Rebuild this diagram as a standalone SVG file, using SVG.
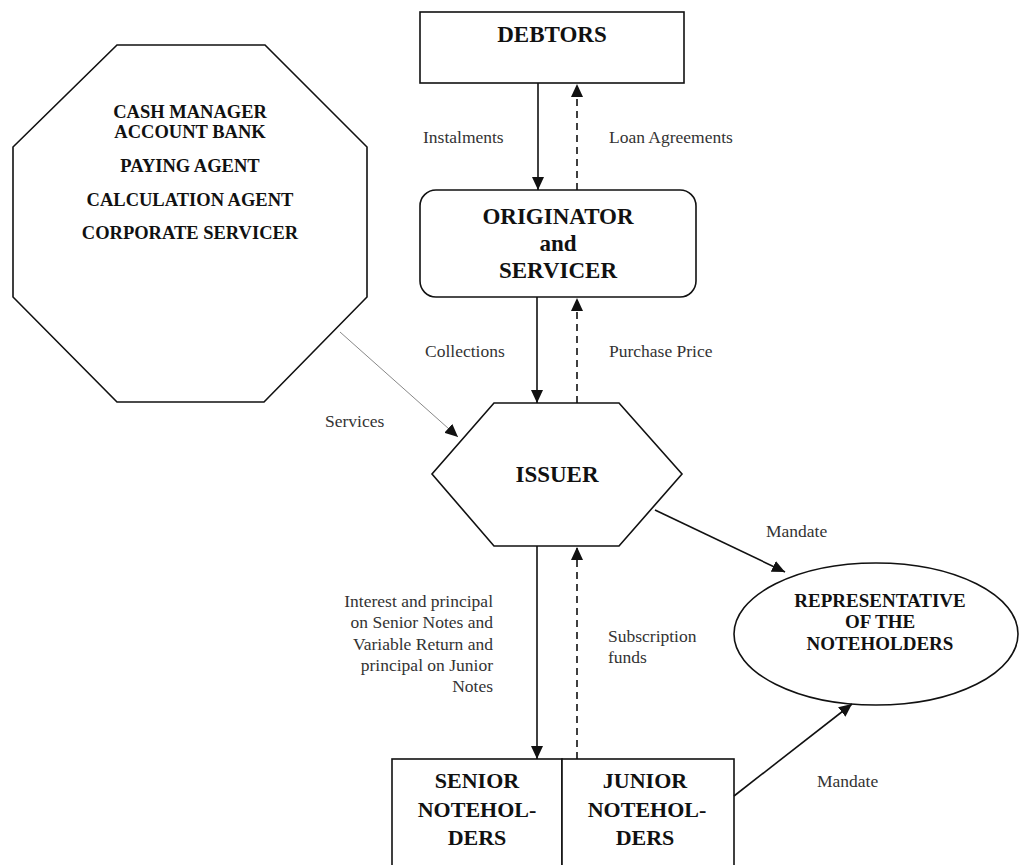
<svg xmlns="http://www.w3.org/2000/svg" width="1019" height="865" viewBox="0 0 1019 865">
<defs>
<style>
.shape{fill:#fff;stroke:#111;stroke-width:1.6}
.bold{font-family:"Liberation Serif","Times New Roman",serif;font-weight:bold;fill:#111;text-anchor:middle}
.lbl{font-family:"Liberation Serif","Times New Roman",serif;font-size:17.5px;fill:#333}
.solid{stroke:#111;stroke-width:1.6;fill:none;marker-end:url(#ah)}
.dash{stroke:#111;stroke-width:1.6;fill:none;stroke-dasharray:7,5;marker-end:url(#ah)}
.thin{stroke:#888;stroke-width:1;fill:none;marker-end:url(#ah)}
</style>
<marker id="ah" markerUnits="userSpaceOnUse" markerWidth="14" markerHeight="12" refX="13" refY="6" orient="auto">
<path d="M0,0 L13,6 L0,12 z" fill="#111"/>
</marker>
</defs>
<rect width="1019" height="865" fill="#fff"/>

<g id="debtors">
<rect class="shape" x="420" y="12" width="264" height="71"/>
<text class="bold" x="552" y="42" font-size="23">DEBTORS</text>
</g>

<g id="originator">
<rect class="shape" x="420" y="190" width="276" height="107" rx="16"/>
<text class="bold" x="558" y="224" font-size="23">ORIGINATOR</text>
<text class="bold" x="558" y="251" font-size="23">and</text>
<text class="bold" x="558" y="278" font-size="23">SERVICER</text>
</g>

<g id="agents">
<polygon class="shape" points="117,45 265,45 367,147 367,297 264,402 117,402 13,297 13,147"/>
<text class="bold" x="190" y="118" font-size="18.5">CASH MANAGER</text>
<text class="bold" x="190" y="138" font-size="18.5">ACCOUNT BANK</text>
<text class="bold" x="190" y="172" font-size="18.5">PAYING AGENT</text>
<text class="bold" x="190" y="206" font-size="18.5">CALCULATION AGENT</text>
<text class="bold" x="190" y="239" font-size="18.5">CORPORATE SERVICER</text>
</g>

<g id="issuer">
<polygon class="shape" points="494,403 619,403 682,474 619,546 494,546 432,474"/>
<text class="bold" x="557" y="482" font-size="23">ISSUER</text>
</g>

<g id="representative">
<ellipse class="shape" cx="876" cy="634" rx="142" ry="71"/>
<text class="bold" x="880" y="607" font-size="19">REPRESENTATIVE</text>
<text class="bold" x="880" y="628" font-size="19">OF THE</text>
<text class="bold" x="880" y="650" font-size="19">NOTEHOLDERS</text>
</g>

<g id="senior">
<rect class="shape" x="392" y="759" width="170" height="120"/>
<text class="bold" x="477" y="788" font-size="22">SENIOR</text>
<text class="bold" x="477" y="817" font-size="22">NOTEHOL-</text>
<text class="bold" x="477" y="845" font-size="22">DERS</text>
</g>

<g id="junior">
<rect class="shape" x="562" y="759" width="172" height="120"/>
<text class="bold" x="645" y="788" font-size="22">JUNIOR</text>
<text class="bold" x="647" y="817" font-size="22">NOTEHOL-</text>
<text class="bold" x="645" y="845" font-size="22">DERS</text>
</g>

<g id="connectors">
<line class="solid" x1="538" y1="83" x2="538" y2="190"/>
<line class="dash" x1="577" y1="190" x2="577" y2="84"/>
<line class="solid" x1="537" y1="297" x2="537" y2="403"/>
<line class="dash" x1="577" y1="403" x2="577" y2="298"/>
<line class="thin" x1="340" y1="332" x2="458" y2="437"/>
<line class="solid" x1="655" y1="510" x2="785" y2="572"/>
<line class="solid" x1="537" y1="546" x2="537" y2="759"/>
<line class="dash" x1="577" y1="759" x2="577" y2="547"/>
<line class="solid" x1="734" y1="796" x2="852" y2="704"/>
</g>

<g id="labels">
<text class="lbl" x="423" y="143">Instalments</text>
<text class="lbl" x="609" y="143">Loan Agreements</text>
<text class="lbl" x="425" y="357">Collections</text>
<text class="lbl" x="609" y="357">Purchase Price</text>
<text class="lbl" x="325" y="427">Services</text>
<text class="lbl" x="766" y="537">Mandate</text>
<text class="lbl" x="817" y="787">Mandate</text>
<text class="lbl" x="608" y="642">Subscription</text>
<text class="lbl" x="608" y="663">funds</text>
<g text-anchor="end">
<text class="lbl" x="493" y="607">Interest and principal</text>
<text class="lbl" x="493" y="628">on Senior Notes and</text>
<text class="lbl" x="493" y="650">Variable Return and</text>
<text class="lbl" x="493" y="671">principal on Junior</text>
<text class="lbl" x="493" y="692">Notes</text>
</g>
</g>
</svg>
